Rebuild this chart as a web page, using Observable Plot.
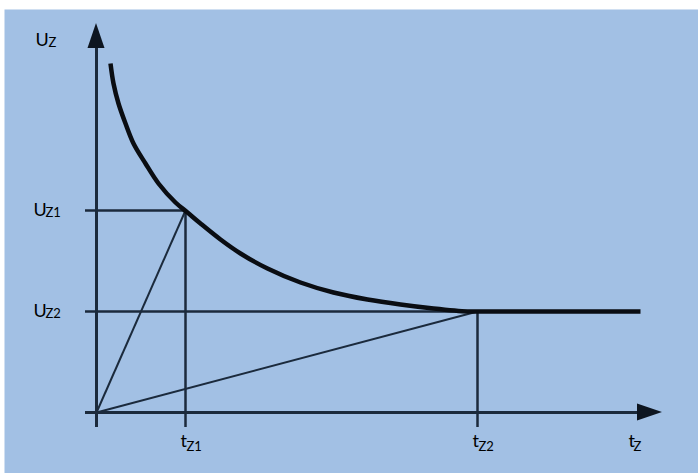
<!DOCTYPE html>
<html><head><meta charset="utf-8">
<script src="https://cdn.jsdelivr.net/npm/d3@7"></script>
<script src="https://cdn.jsdelivr.net/npm/@observablehq/plot@0.6"></script>
<style>html,body{margin:0;padding:0;background:#fff;}</style>
</head><body><div id="chart"></div>
<script>
// ---- data (schematic units) ----
const curveT = [1.4, 1.7, 2.2, 2.9, 3.7, 4.9, 6.2, 7.9, 9.1, 10.4, 12.4, 14.4, 17.1, 20.4, 23.7, 27.1, 30.4, 33.7, 37.1, 38.1, 54.4];
const curveU = [34.9, 32.9, 30.9, 28.9, 26.9, 24.9, 22.9, 21.0, 20.0, 18.9, 17.3, 15.9, 14.4, 13.0, 12.0, 11.3, 10.8, 10.4, 10.1, 10.1, 10.1];
const tTicks = [8.9, 38.1];          // t_Z1, t_Z2
const uTicks = [20.2, 10.1];         // U_Z1, U_Z2
const tickSubs = ["Z1", "Z2"];
const axisMain = ["U", "t"];
const axisSub = ["Z", "Z"];
const tAxisExtent = [-1.1, 56.6];    // start, arrow tip
const uAxisExtent = [-1.5, 38.9];

// ---- styles ----
const bg = "#a2c0e4";
const ink = "#1b2a3c";
const font = "Lato, 'Open Sans', sans-serif";
const mainSize = 18, subSize = 13;

const curve = curveT.map((t, i) => ({t, u: curveU[i]}));
const ticks = tTicks.map((t, i) => ({t, u: uTicks[i], sub: tickSubs[i]}));
const arrowLen = 2.5, arrowHalf = 0.85;
const xArrow = [
  {t: tAxisExtent[1] - arrowLen, lo: -arrowHalf, hi: arrowHalf},
  {t: tAxisExtent[1], lo: 0, hi: 0}
];
const yArrow = [
  {u: uAxisExtent[1] - arrowLen, lo: -arrowHalf, hi: arrowHalf},
  {u: uAxisExtent[1], lo: 0, hi: 0}
];

const chart = Plot.plot({
  width: 698, height: 473,
  marginLeft: 4, marginRight: 0, marginTop: 9, marginBottom: 0,
  x: {domain: [-9.2, 60.2], axis: null},
  y: {domain: [-6.1, 40.3], axis: null},
  style: {background: "white", fontFamily: font},
  marks: [
    Plot.frame({fill: bg, stroke: "none"}),
    // reference lines
    Plot.ruleY(ticks, {y: "u", x1: tAxisExtent[0], x2: "t", stroke: ink, strokeWidth: 2.5}),
    Plot.ruleX(ticks, {x: "t", y1: uAxisExtent[0], y2: "u", stroke: ink, strokeWidth: 2.5}),
    Plot.link(ticks, {x1: 0, y1: 0, x2: "t", y2: "u", stroke: ink, strokeWidth: 2}),
    // axes
    Plot.ruleY([0], {x1: tAxisExtent[0], x2: tAxisExtent[1] - arrowLen, stroke: ink, strokeWidth: 3}),
    Plot.ruleX([0], {y1: uAxisExtent[0], y2: uAxisExtent[1] - arrowLen, stroke: ink, strokeWidth: 3}),
    Plot.areaY(xArrow, {x: "t", y1: "lo", y2: "hi", fill: "#0d1520"}),
    Plot.areaX(yArrow, {y: "u", x1: "lo", x2: "hi", fill: "#0d1520"}),
    // curve
    Plot.line(curve, {x: "t", y: "u", stroke: "#0a0d12", strokeWidth: 4.5, curve: "catmull-rom", strokeLinecap: "butt"}),
    // tick labels on U
    Plot.text(ticks, {x: -6.3, y: "u", text: () => axisMain[0], textAnchor: "start", lineAnchor: "bottom", dy: 5, fontSize: mainSize, fill: "black"}),
    Plot.text(ticks, {x: -6.3, y: "u", text: "sub", textAnchor: "start", lineAnchor: "bottom", dx: 12, dy: 6, fontSize: subSize, fill: "black"}),
    // tick labels on t
    Plot.text(ticks, {x: "t", y: 0, text: () => axisMain[1], textAnchor: "start", lineAnchor: "bottom", dx: -5, dy: 34, fontSize: mainSize, fill: "black"}),
    Plot.text(ticks, {x: "t", y: 0, text: "sub", textAnchor: "start", lineAnchor: "bottom", dx: 1, dy: 38, fontSize: subSize, fill: "black"}),
    // axis names
    Plot.text([0], {x: -6.1, y: uAxisExtent[1], text: () => axisMain[0], textAnchor: "start", lineAnchor: "bottom", dy: 22, fontSize: mainSize, fill: "black"}),
    Plot.text([0], {x: -6.1, y: uAxisExtent[1], text: () => axisSub[0], textAnchor: "start", lineAnchor: "bottom", dx: 13, dy: 23, fontSize: subSize, fill: "black"}),
    Plot.text([0], {x: 53.2, y: 0, text: () => axisMain[1], textAnchor: "start", lineAnchor: "bottom", dy: 34, fontSize: mainSize, fill: "black"}),
    Plot.text([0], {x: 53.2, y: 0, text: () => axisSub[1], textAnchor: "start", lineAnchor: "bottom", dx: 5, dy: 38, fontSize: subSize, fill: "black"})
  ]
});
document.getElementById("chart").appendChild(chart);
</script>
</body></html>
